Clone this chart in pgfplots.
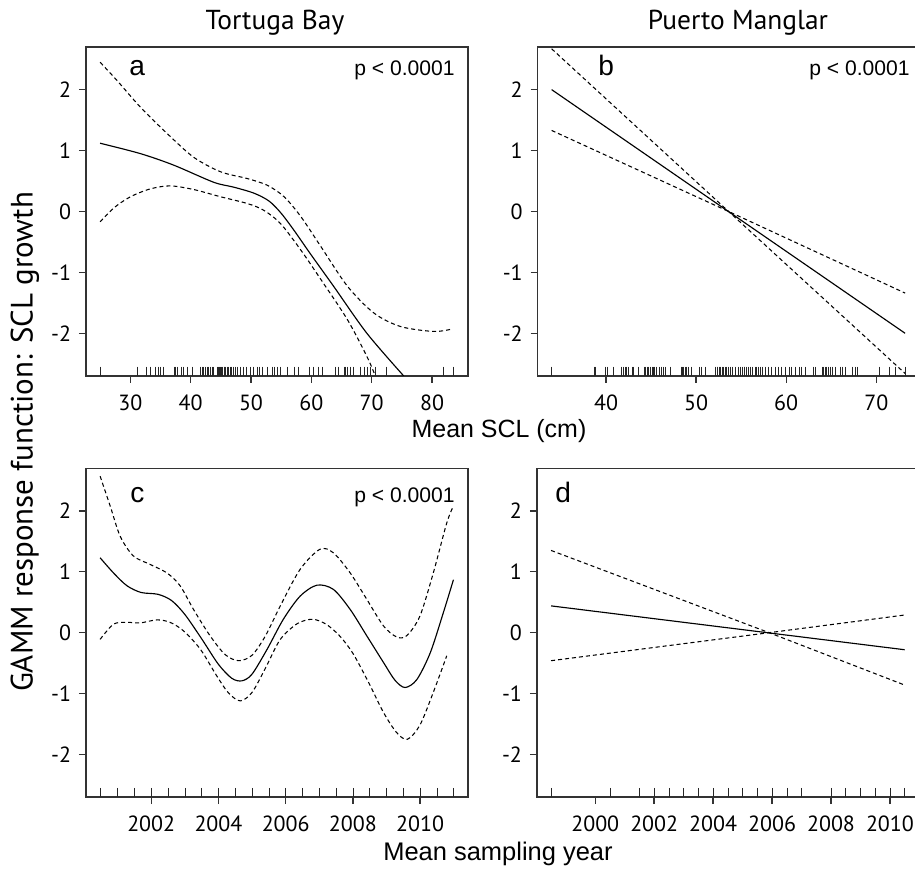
\documentclass[border=0pt]{standalone}
\usepackage{pgfplots}
\pgfplotsset{compat=1.18}
\usepackage{fontspec}
\setmainfont{Liberation Sans}
\newfontfamily\myriad{PT Sans}

% rug positions (observed covariate values), drawn just above the bottom frame
\pgfplotstableread{
x y
25.0 -2.623
31.1 -2.623
32.6 -2.623
33.3 -2.623
34.1 -2.623
34.7 -2.623
35.0 -2.623
35.4 -2.623
37.3 -2.623
37.5 -2.623
37.8 -2.623
38.5 -2.623
38.8 -2.623
39.4 -2.623
40.2 -2.623
41.6 -2.623
41.9 -2.623
42.1 -2.623
42.4 -2.623
42.7 -2.623
43.0 -2.623
43.3 -2.623
43.6 -2.623
43.8 -2.623
44.4 -2.623
44.6 -2.623
44.7 -2.623
44.9 -2.623
45.1 -2.623
45.3 -2.623
45.5 -2.623
45.6 -2.623
45.8 -2.623
46.0 -2.623
46.3 -2.623
46.6 -2.623
46.8 -2.623
47.1 -2.623
47.4 -2.623
47.7 -2.623
48.2 -2.623
48.8 -2.623
49.3 -2.623
49.9 -2.623
50.4 -2.623
51.0 -2.623
51.3 -2.623
51.8 -2.623
52.7 -2.623
53.5 -2.623
53.8 -2.623
54.3 -2.623
54.9 -2.623
56.0 -2.623
57.1 -2.623
57.9 -2.623
59.7 -2.623
60.4 -2.623
61.2 -2.623
61.8 -2.623
64.0 -2.623
64.5 -2.623
65.4 -2.623
65.6 -2.623
65.9 -2.623
66.5 -2.623
67.0 -2.623
68.1 -2.623
68.7 -2.623
69.2 -2.623
69.8 -2.623
70.6 -2.623
72.5 -2.623
81.9 -2.623
83.6 -2.623
}\rugA

\pgfplotstableread{
x y
33.96 -2.623
38.7 -2.623
38.85 -2.623
39.9 -2.623
40.1 -2.623
40.8 -2.623
41.7 -2.623
41.9 -2.623
42.1 -2.623
42.3 -2.623
42.5 -2.623
42.9 -2.623
43.0 -2.623
43.6 -2.623
44.3 -2.623
44.4 -2.623
44.6 -2.623
44.7 -2.623
44.9 -2.623
45.1 -2.623
45.3 -2.623
45.4 -2.623
45.6 -2.623
45.9 -2.623
46.1 -2.623
46.4 -2.623
46.6 -2.623
47.1 -2.623
48.3 -2.623
48.5 -2.623
48.6 -2.623
48.8 -2.623
48.9 -2.623
49.1 -2.623
49.5 -2.623
50.4 -2.623
50.6 -2.623
51.0 -2.623
52.1 -2.623
52.3 -2.623
52.4 -2.623
52.6 -2.623
52.7 -2.623
52.9 -2.623
53.0 -2.623
53.2 -2.623
53.4 -2.623
53.6 -2.623
53.8 -2.623
54.0 -2.623
54.3 -2.623
54.7 -2.623
54.9 -2.623
55.1 -2.623
55.3 -2.623
55.4 -2.623
55.6 -2.623
55.8 -2.623
56.0 -2.623
56.2 -2.623
56.6 -2.623
56.7 -2.623
56.9 -2.623
57.1 -2.623
57.3 -2.623
57.7 -2.623
58.0 -2.623
58.4 -2.623
58.8 -2.623
59.1 -2.623
59.5 -2.623
59.9 -2.623
60.3 -2.623
60.6 -2.623
61.0 -2.623
61.4 -2.623
61.7 -2.623
62.1 -2.623
63.0 -2.623
63.2 -2.623
64.0 -2.623
64.1 -2.623
64.3 -2.623
64.5 -2.623
64.7 -2.623
64.9 -2.623
65.1 -2.623
65.4 -2.623
66.0 -2.623
66.2 -2.623
66.6 -2.623
67.3 -2.623
67.7 -2.623
67.9 -2.623
70.3 -2.623
71.4 -2.623
72.1 -2.623
73.2 -2.623
}\rugB

\pgfplotsset{
  gam/.style={
    scale only axis, width=7.64cm, height=6.58cm,
    anchor=north west,
    ymin=-2.7, ymax=2.7,
    ytick={-2,-1,0,1,2}, yticklabels={-2,-1,0,1,2},
    axis line style={draw=black!80, line width=0.8pt},
    tick style={draw=black!80, line width=0.8pt},
    tick align=outside, major tick length=0.14cm,
    xtick pos=bottom, ytick pos=left,
    tick label style={font=\myriad\fontsize{12.5}{14}\selectfont},
    yticklabel style={xshift=-1pt},
    xticklabel style={yshift=-3pt},
  },
  fit/.style={black, line width=0.65pt, smooth},
  ci/.style={black, line width=0.6pt, smooth, dash pattern=on 2.3pt off 1.7pt},
  rug/.style={only marks, mark=|, mark size=2.67pt, mark options={black!85, line width=0.35pt}},
}

\begin{document}
\begin{tikzpicture}[x=0.02cm, y=-0.02cm]
\path[use as bounding box] (0,0) rectangle (915,872);

% ---- a: Tortuga Bay, SCL
\begin{axis}[gam, at={(1.72cm,-0.94cm)}, xmin=22.66, xmax=85.94,
  xtick={30,40,50,60,70,80}, xticklabels={30,40,50,60,70,80}]
\addplot[fit] coordinates {(25,1.12) (31.66,0.95) (37.2,0.76) (43.8,0.48) (47.1,0.40) (50.5,0.30) (53.0,0.17) (55.0,-0.03) (57.2,-0.32) (59.8,-0.69) (63.7,-1.23) (69.2,-2.0) (75.3,-2.70)};
\addplot[ci] coordinates {(25,2.45) (27.8,2.15) (31.7,1.71) (36.1,1.28) (40.5,0.89) (45.0,0.65) (49.4,0.54) (52.7,0.43) (55.5,0.24) (58.3,-0.09) (61.6,-0.58) (66.0,-1.23) (70.4,-1.67) (74.8,-1.89) (80.3,-1.97) (83.3,-1.93)};
\addplot[ci] coordinates {(25,-0.17) (27.3,0.06) (30,0.24) (33.3,0.37) (36.6,0.42) (40.5,0.36) (45.0,0.24) (49.4,0.13) (52.1,0.02) (54.9,-0.20) (58.3,-0.64) (61.6,-1.12) (66.0,-1.78) (69.2,-2.38) (70.6,-2.70)};
\addplot[rug] table[x=x, y=y] {\rugA};
\end{axis}

% ---- b: Puerto Manglar, SCL
\begin{axis}[gam, at={(10.754cm,-0.94cm)}, xmin=32.4, xmax=74.8,
  xtick={40,50,60,70}, xticklabels={40,50,60,70}]
\addplot[fit, sharp plot] coordinates {(33.96,2.0) (73.2,-2.0)};
\addplot[ci, sharp plot] coordinates {(33.96,2.67) (53.6,0) (73.2,-2.66)};
\addplot[ci, sharp plot] coordinates {(33.96,1.33) (53.6,0) (73.2,-1.34)};
\addplot[rug] table[x=x, y=y] {\rugB};
\end{axis}

% ---- c: Tortuga Bay, year
\begin{axis}[gam, at={(1.72cm,-9.366cm)}, xmin=2000.06, xmax=2011.42,
  xtick={2002,2004,2006,2008,2010}, xticklabels={2002,2004,2006,2008,2010}]
\addplot[fit] coordinates {(2000.48,1.23) (2000.88,0.98) (2001.28,0.77) (2001.7,0.66) (2002.2,0.63) (2002.6,0.53) (2003.0,0.30) (2003.5,-0.10) (2004.0,-0.52) (2004.4,-0.75) (2004.7,-0.79) (2005.0,-0.68) (2005.45,-0.27) (2005.93,0.22) (2006.43,0.60) (2006.93,0.78) (2007.42,0.71) (2007.92,0.38) (2008.41,-0.05) (2008.91,-0.49) (2009.25,-0.78) (2009.55,-0.90) (2009.9,-0.77) (2010.3,-0.33) (2010.69,0.33) (2010.99,0.87)};
\addplot[ci] coordinates {(2000.48,2.57) (2000.78,2.08) (2001.08,1.58) (2001.47,1.26) (2001.97,1.12) (2002.47,0.98) (2002.86,0.77) (2003.26,0.38) (2003.75,-0.05) (2004.2,-0.36) (2004.6,-0.46) (2005.0,-0.37) (2005.4,-0.05) (2005.84,0.44) (2006.43,1.04) (2007.02,1.37) (2007.42,1.31) (2007.92,0.98) (2008.41,0.55) (2008.91,0.11) (2009.3,-0.07) (2009.6,-0.05) (2009.99,0.27) (2010.39,0.98) (2010.79,1.80) (2010.99,2.08)};
\addplot[ci] coordinates {(2000.48,-0.11) (2000.88,0.14) (2001.28,0.17) (2001.67,0.16) (2002.17,0.21) (2002.56,0.17) (2002.96,0.03) (2003.46,-0.27) (2003.95,-0.71) (2004.3,-0.99) (2004.65,-1.12) (2005.0,-0.98) (2005.4,-0.58) (2005.84,-0.11) (2006.35,0.15) (2006.8,0.22) (2007.2,0.14) (2007.6,-0.05) (2008.0,-0.34) (2008.45,-0.80) (2008.91,-1.31) (2009.3,-1.64) (2009.62,-1.75) (2009.99,-1.52) (2010.39,-0.98) (2010.79,-0.38)};
\addplot[rug] coordinates {(2000.5,-2.623) (2001,-2.623) (2001.5,-2.623) (2002,-2.623) (2002.5,-2.623) (2003,-2.623) (2003.5,-2.623) (2004,-2.623) (2004.5,-2.623) (2005,-2.623) (2005.5,-2.623) (2006,-2.623) (2006.5,-2.623) (2007,-2.623) (2007.5,-2.623) (2008,-2.623) (2008.5,-2.623) (2009,-2.623) (2009.5,-2.623) (2010,-2.623) (2010.5,-2.623) (2011,-2.623)};
\end{axis}

% ---- d: Puerto Manglar, year
\begin{axis}[gam, at={(10.74cm,-9.366cm)}, xmin=1998.02, xmax=2010.98,
  xtick={2000,2002,2004,2006,2008,2010}, xticklabels={2000,2002,2004,2006,2008,2010}]
\addplot[fit, sharp plot] coordinates {(1998.5,0.44) (2010.5,-0.28)};
\addplot[ci, sharp plot] coordinates {(1998.5,1.35) (2005.9,0) (2010.5,-0.86)};
\addplot[ci, sharp plot] coordinates {(1998.5,-0.46) (2005.9,0) (2010.5,0.29)};
\addplot[rug] coordinates {(1998.5,-2.623) (2000.5,-2.623) (2001.5,-2.623) (2002,-2.623) (2002.5,-2.623) (2003,-2.623) (2003.5,-2.623) (2004,-2.623) (2004.5,-2.623) (2005,-2.623) (2005.5,-2.623) (2006,-2.623) (2006.5,-2.623) (2007,-2.623) (2008,-2.623) (2008.5,-2.623) (2009,-2.623) (2009.5,-2.623) (2010,-2.623) (2010.5,-2.623)};
\end{axis}

% ---- text
\node[anchor=base, font=\myriad\fontsize{15.6}{18}\selectfont] at (275,30) {Tortuga Bay};
\node[anchor=base, font=\myriad\fontsize{15.6}{18}\selectfont] at (738,30) {Puerto Manglar};
\node[rotate=90, font=\myriad\fontsize{17.6}{20}\selectfont] at (25,442) {GAMM response function: SCL growth};
\node[anchor=base, font=\fontsize{14.2}{17}\selectfont] at (499,437) {Mean SCL (cm)};
\node[anchor=base, font=\fontsize{14.5}{17}\selectfont] at (498,860) {Mean sampling year};
\begin{scope}[every node/.style={font=\fontsize{16}{18}\selectfont, inner sep=0pt}]
\node[anchor=base west] at (129,75) {a};
\node[anchor=base west] at (598,75) {b};
\node[anchor=base west] at (130,502) {c};
\node[anchor=base west] at (555,502) {d};
\end{scope}
\begin{scope}[every node/.style={font=\fontsize{12}{15}\selectfont, inner sep=0pt}]
\node[anchor=base east] at (455,75) {p < 0.0001};
\node[anchor=base east] at (910,75) {p < 0.0001};
\node[anchor=base east] at (455,502) {p < 0.0001};
\end{scope}
\end{tikzpicture}
\end{document}
